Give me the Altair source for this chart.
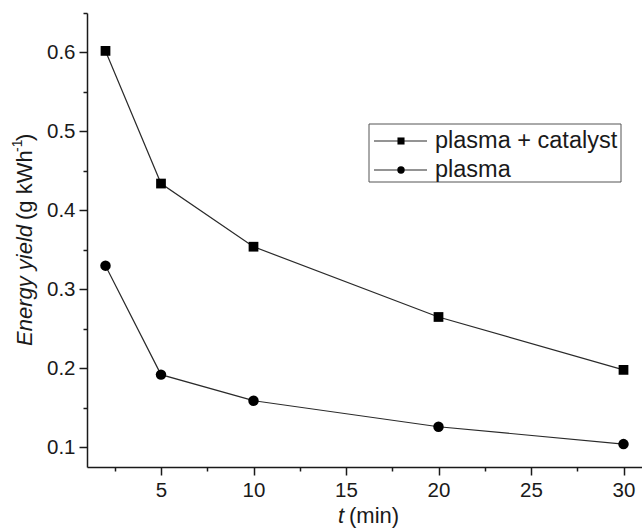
import altair as alt
import pandas as pd

# ---- data ----
t_values = [2, 5, 10, 20, 30]
catalyst_yield = [0.602, 0.434, 0.354, 0.265, 0.198]
plasma_yield = [0.330, 0.192, 0.159, 0.126, 0.104]
series_names = ["plasma + catalyst", "plasma"]

x_ticks = [2.5, 5, 7.5, 10, 12.5, 15, 17.5, 20, 22.5, 25, 27.5, 30]
y_ticks = [0.1, 0.15, 0.2, 0.25, 0.3, 0.35, 0.4, 0.45, 0.5, 0.55, 0.6, 0.65]
x_domain = [1, 31]
y_domain = [0.075, 0.65]

df = pd.DataFrame({
    "t": t_values * 2,
    "value": catalyst_yield + plasma_yield,
    "series": [series_names[0]] * len(t_values) + [series_names[1]] * len(t_values),
})
one = pd.DataFrame({"k": [0]})

FONT = "Liberation Sans"
INK = "#1a1a1a"

x_enc = alt.X(
    "t:Q",
    scale=alt.Scale(domain=x_domain, nice=False, zero=False),
    axis=alt.Axis(
        values=x_ticks,
        title=None,
        grid=False,
        labelPadding=5,
        labelExpr="datum.value % 5 == 0 ? datum.label : ''",
        tickSize={"condition": {"test": "datum.value % 5 == 0", "value": 8}, "value": 4},
    ),
)
y_enc = alt.Y(
    "value:Q",
    scale=alt.Scale(domain=y_domain, nice=False, zero=False),
    axis=alt.Axis(
        values=y_ticks,
        title=None,
        grid=False,
        format=".1f",
        labelPadding=4,
        labelExpr="abs(datum.value*10 - round(datum.value*10)) < 0.001 ? format(datum.value, '.1f') : ''",
        tickSize={"condition": {"test": "abs(datum.value*10 - round(datum.value*10)) < 0.001", "value": 8}, "value": 4},
    ),
)

lines = alt.Chart(df).mark_line(color="#2a2a2a", strokeWidth=1.2).encode(
    x=x_enc, y=y_enc, detail="series:N"
)
points = alt.Chart(df).mark_point(filled=True, color="black", opacity=1).encode(
    x=x_enc,
    y=y_enc,
    shape=alt.Shape("series:N", scale=alt.Scale(domain=series_names, range=["square", "circle"]), legend=None),
    size=alt.Size("series:N", scale=alt.Scale(domain=series_names, range=[95, 110]), legend=None),
)

# ---- axis titles with mixed styling ----
def txt(s, x, y, size=22, style="normal", angle=0, align="left"):
    return alt.Chart(one).mark_text(
        text=s, font=FONT, fontSize=size, fontStyle=style, color=INK,
        angle=angle, align=align, baseline="alphabetic",
    ).encode(x=alt.value(x), y=alt.value(y))

y_title = [
    txt("Energy yield", -55, 333, style="italic", angle=270),
    txt("(g kWh", -55, 207, angle=270),
    txt("-1", -65, 139, size=14, angle=270),
    txt(")", -55, 128, angle=270),
]
x_title = [
    txt("t", 251, 510, style="italic"),
    txt("(min)", 262, 510),
]

# ---- legend box ----
legend_box = alt.Chart(one).mark_rect(fill="white", stroke="#555555", strokeWidth=1).encode(
    x=alt.value(282), x2=alt.value(534), y=alt.value(111), y2=alt.value(169)
)
legend_layers = [legend_box]
for name, shp, sz, yc, yb in [
    (series_names[0], "square", 50, 128, 135),
    (series_names[1], "circle", 55, 157, 163.5),
]:
    legend_layers.append(
        alt.Chart(one).mark_rule(color="#2a2a2a", strokeWidth=1.2).encode(
            x=alt.value(287), x2=alt.value(340), y=alt.value(yc)
        )
    )
    legend_layers.append(
        alt.Chart(one).mark_point(filled=True, color="black", opacity=1, shape=shp, size=sz).encode(
            x=alt.value(314), y=alt.value(yc)
        )
    )
    legend_layers.append(txt(name, 348, yb, size=23.5))

chart = alt.layer(lines, points, *y_title, *x_title, *legend_layers).properties(
    width=555,
    height=454,
    padding={"left": 87, "top": 13, "right": 0, "bottom": 63},
    autosize=alt.AutoSizeParams(type="none"),
    background="white",
).configure_view(stroke=None).configure_axis(
    domainColor=INK,
    domainWidth=1.5,
    tickColor=INK,
    tickWidth=1.5,
    labelColor=INK,
    labelFont=FONT,
    labelFontSize=20.5,
)

chart.save("out.html", embed_options={"renderer": "svg", "actions": False})
